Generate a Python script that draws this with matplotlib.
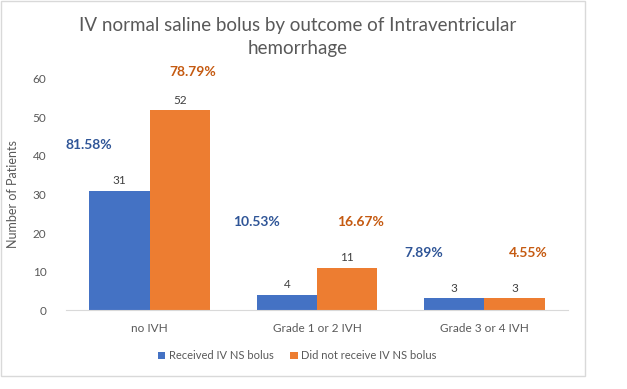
import numpy as np
import matplotlib.pyplot as plt
from matplotlib.patches import Rectangle

categories = ["no IVH", "Grade 1 or 2 IVH", "Grade 3 or 4 IVH"]
received = [31, 4, 3]
not_received = [52, 11, 3]
pct_received = ["81.58%", "10.53%", "7.89%"]
pct_not_received = ["78.79%", "16.67%", "4.55%"]
# heights (data units) where the percentage boxes sit
pct_y_received = [42.8, 22.8, 14.7]
pct_y_not_received = [61.8, 22.8, 14.7]

plt.rcParams['font.family'] = ['Lato', 'DejaVu Sans']

fig = plt.figure(figsize=(6.27, 3.89), dpi=100)
ax = fig.add_axes([0.105, 0.203, 0.801, 0.594])

x = np.arange(len(categories))
w = 0.36
blue = "#4472C4"
orange = "#ED7D31"
b1 = ax.bar(x - w / 2, received, w, color=blue, label="Received IV NS bolus")
b2 = ax.bar(x + w / 2, not_received, w, color=orange, label="Did not receive IV NS bolus")

for i in range(len(categories)):
    ax.text(x[i] - w / 2, received[i] + 1.1, str(received[i]), ha="center", va="bottom",
            fontsize=8.5, color="#404040")
    ax.text(x[i] + w / 2, not_received[i] + 1.1, str(not_received[i]), ha="center", va="bottom",
            fontsize=8.5, color="#404040")
    ax.text(x[i] - w / 2 - 0.18, pct_y_received[i], pct_received[i], ha="center", va="center",
            fontsize=10, fontweight="bold", color="#2F5597", clip_on=False)
    ax.text(x[i] + w / 2 + 0.08, pct_y_not_received[i], pct_not_received[i], ha="center", va="center",
            fontsize=10, fontweight="bold", color="#C55A11", clip_on=False)

ax.set_xlim(-0.5, 2.5)
ax.set_ylim(0, 60)
ax.set_yticks(range(0, 61, 10))
ax.set_xticks(x)
ax.set_xticklabels(categories)
ax.tick_params(axis="both", length=0, labelsize=8.5, labelcolor="#595959")
ax.tick_params(axis="y", pad=14)
ax.tick_params(axis="x", pad=9)
for s in ["top", "right", "left"]:
    ax.spines[s].set_visible(False)
ax.spines["bottom"].set_color("#D9D9D9")
ax.set_ylabel("Number of Patients", fontsize=9, color="#595959", labelpad=10)

fig.text(0.474, 0.904, "IV normal saline bolus by outcome of Intraventricular\nhemorrhage",
         ha="center", va="center", fontsize=13.5, color="#595959", linespacing=1.45)

fig.legend(handles=[b1, b2], loc="center", bbox_to_anchor=(0.474, 0.085), ncol=2,
           frameon=False, fontsize=8, labelcolor="#595959", handlelength=0.7,
           handleheight=0.7, handletextpad=0.3, columnspacing=1.5)

fig.patches.append(Rectangle((0.002, 0.033), 0.931, 0.964, transform=fig.transFigure,
                             fill=False, edgecolor="#D9D9D9", linewidth=1))

fig.savefig("out.png", dpi=100)
